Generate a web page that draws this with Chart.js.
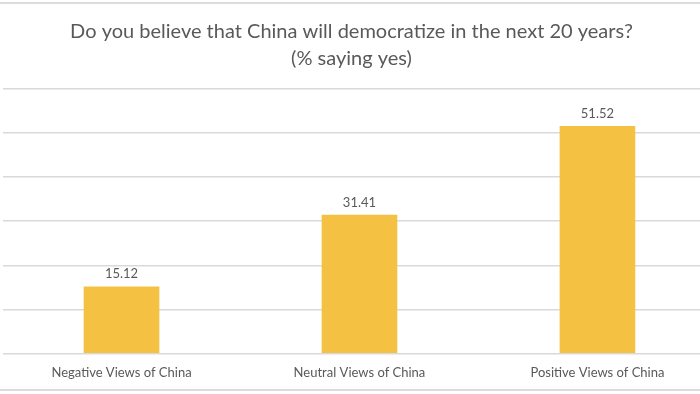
<!DOCTYPE html>
<html>
<head>
<meta charset="utf-8">
<script src="https://cdn.jsdelivr.net/npm/chart.js@4.4.0/dist/chart.umd.min.js"></script>
<style>
  html, body { margin: 0; padding: 0; background: #fff; overflow: hidden; }
  #wrap { position: relative; width: 700px; height: 394px; }
  #grafico { position: absolute; left: 0; top: 0; }
  .linha { position: absolute; left: 0; width: 700px; height: 0; border-top: 2px solid #dcdcdc; }
</style>
</head>
<body>
<div id="wrap">
  <div class="linha" style="top:2px"></div>
  <canvas id="grafico" width="700" height="394"></canvas>
  <div class="linha" style="top:389px"></div>
</div>
<script>
const categorias = ['Negative Views of China', 'Neutral Views of China', 'Positive Views of China']
const valores = [15.12, 31.41, 51.52]
const titulo = ['Do you believe that China will democratize in the next 20 years?', '(% saying yes)']

const fonte = 'Lato'
const cinza = '#595959'

const rotulos = {
    id: 'rotulos',
    afterDatasetsDraw(chart) {
        const ctx = chart.ctx
        const meta = chart.getDatasetMeta(0)
        ctx.save()
        ctx.font = '13px ' + fonte
        ctx.fillStyle = cinza
        ctx.textAlign = 'center'
        ctx.textBaseline = 'bottom'
        meta.data.forEach((barra, i) => {
            ctx.fillText(valores[i].toFixed(2), barra.x, barra.y - 6)
        })
        ctx.restore()
    }
}

const grafico = new Chart(document.getElementById('grafico'), {
    type: 'bar',
    data: {
        datasets: [{
            data: valores.map((v, i) => ({ x: i, y: v })),
            backgroundColor: '#f4c142',
            barThickness: 75
        }]
    },
    options: {
        responsive: false,
        animation: false,
        layout: { padding: { left: 3, right: 0, top: 0, bottom: 9 } },
        plugins: {
            legend: { display: false },
            tooltip: { enabled: false },
            title: {
                display: true,
                text: titulo,
                color: cinza,
                font: { family: fonte, size: 20, weight: 'normal', lineHeight: 1.35 },
                padding: { top: 18, bottom: 17 }
            }
        },
        scales: {
            x: {
                type: 'linear',
                offset: false,
                min: -0.498,
                max: 2.431,
                afterBuildTicks: escala => { escala.ticks = categorias.map((c, i) => ({ value: i })) },
                ticks: {
                    callback: v => categorias[v],
                    color: cinza,
                    font: { family: fonte, size: 13 },
                    padding: 4,
                    maxRotation: 0,
                    autoSkip: false
                },
                grid: { display: false },
                border: { display: false }
            },
            y: {
                min: 0,
                max: 60,
                ticks: { display: false, stepSize: 10 },
                grid: { color: '#d9d9d9', lineWidth: 1.5, drawTicks: false },
                border: { display: false }
            }
        }
    },
    plugins: [rotulos]
})
</script>
</body>
</html>
